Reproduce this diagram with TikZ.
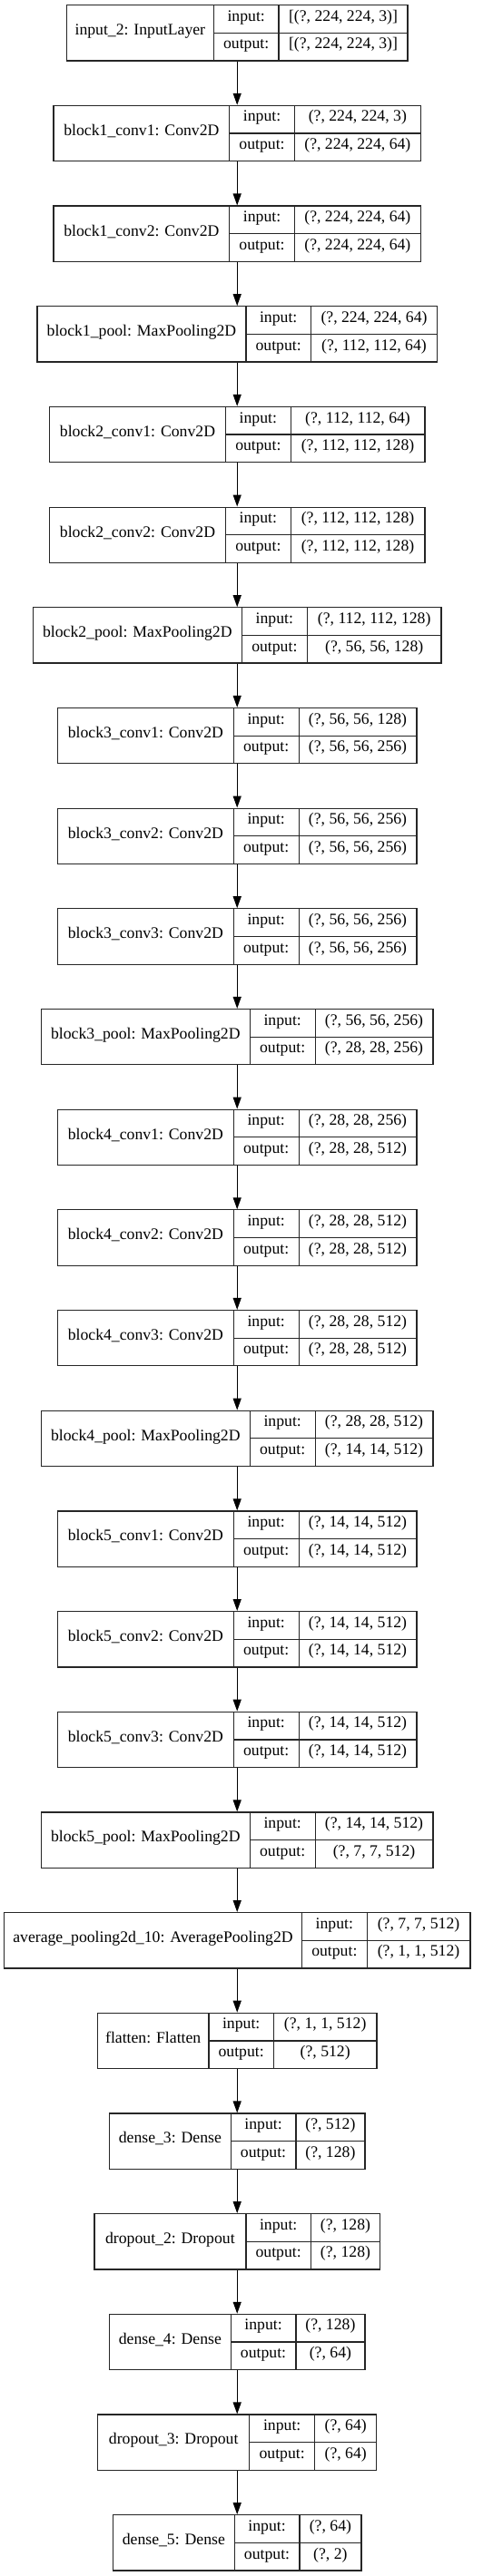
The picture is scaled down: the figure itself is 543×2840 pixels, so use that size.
\documentclass[tikz,border=0pt]{standalone}
\usepackage{fontspec}
\setmainfont{Liberation Serif}
\usetikzlibrary{arrows.meta}
\tikzset{
  layerbox/.style={draw=black!85, line width=1.2pt, rectangle, inner sep=0pt, fill=white},
  cellline/.style={draw=black!85, line width=1.2pt},
  celltext/.style={anchor=mid, inner sep=0pt, font=\fontsize{17.7}{20}\selectfont},
  flow/.style={draw=black, line width=1.2pt, -{Triangle[length=13pt,width=9pt]}}
}
\newcommand{\klayer}[8]{%
  \pgfmathsetmacro{\kW}{#3+#4+#5}%
  \pgfmathsetmacro{\kL}{261.2-\kW/2}%
  \pgfmathsetmacro{\kT}{5.7+#2*110.68}%
  \pgfmathsetmacro{\kA}{\kL+#3}%
  \pgfmathsetmacro{\kB}{\kA+#4}%
  \pgfmathsetmacro{\kR}{\kL+\kW}%
  \pgfmathsetmacro{\kBt}{\kT+61.3}%
  \pgfmathsetmacro{\kM}{\kT+30.65}%
  \pgfmathsetmacro{\kUp}{\kT+15.3}%
  \pgfmathsetmacro{\kDn}{\kT+46.0}%
  \node[layerbox, minimum width=\kW pt, minimum height=61.3pt] (#1) at (261.2,\kM) {};
  \draw[cellline] (\kA,\kT) -- (\kA,\kBt);
  \draw[cellline] (\kB,\kT) -- (\kB,\kBt);
  \draw[cellline] (\kA,\kM) -- (\kR,\kM);
  \node[celltext] (#1-name) at ({(\kL+\kA)/2},\kM) {#6};
  \node[celltext] (#1-inl) at ({(\kA+\kB)/2},\kUp) {input:};
  \node[celltext] (#1-outl) at ({(\kA+\kB)/2},\kDn) {output:};
  \node[celltext] (#1-inv) at ({(\kB+\kR)/2},\kUp) {#7};
  \node[celltext] (#1-outv) at ({(\kB+\kR)/2},\kDn) {#8};
}
\begin{document}
\begin{tikzpicture}[x=1pt,y=-1pt]
\useasboundingbox[fill=white] (0,0) rectangle (543,2840);
\klayer{inp}{0}{162}{71.7}{142}{input\_2: InputLayer}{[(?, 224, 224, 3)]}{[(?, 224, 224, 3)]}
\klayer{bAa}{1}{193.7}{71.6}{139}{block1\_conv1: Conv2D}{(?, 224, 224, 3)}{(?, 224, 224, 64)}
\klayer{bAb}{2}{193.7}{71.6}{139}{block1\_conv2: Conv2D}{(?, 224, 224, 64)}{(?, 224, 224, 64)}
\klayer{bAp}{3}{230}{71.6}{139}{block1\_pool: MaxPooling2D}{(?, 224, 224, 64)}{(?, 112, 112, 64)}
\klayer{bBa}{4}{194}{71.7}{147.7}{block2\_conv1: Conv2D}{(?, 112, 112, 64)}{(?, 112, 112, 128)}
\klayer{bBb}{5}{194}{71.7}{147.7}{block2\_conv2: Conv2D}{(?, 112, 112, 128)}{(?, 112, 112, 128)}
\klayer{bBp}{6}{230}{72}{147.7}{block2\_pool: MaxPooling2D}{(?, 112, 112, 128)}{(?, 56, 56, 128)}
\klayer{bCa}{7}{193.7}{72}{129.7}{block3\_conv1: Conv2D}{(?, 56, 56, 128)}{(?, 56, 56, 256)}
\klayer{bCb}{8}{193.7}{72}{129.7}{block3\_conv2: Conv2D}{(?, 56, 56, 256)}{(?, 56, 56, 256)}
\klayer{bCc}{9}{193.7}{72}{129.7}{block3\_conv3: Conv2D}{(?, 56, 56, 256)}{(?, 56, 56, 256)}
\klayer{bCp}{10}{229.7}{72}{129.7}{block3\_pool: MaxPooling2D}{(?, 56, 56, 256)}{(?, 28, 28, 256)}
\klayer{bDa}{11}{193.7}{72}{129.7}{block4\_conv1: Conv2D}{(?, 28, 28, 256)}{(?, 28, 28, 512)}
\klayer{bDb}{12}{193.7}{72}{129.7}{block4\_conv2: Conv2D}{(?, 28, 28, 512)}{(?, 28, 28, 512)}
\klayer{bDc}{13}{193.7}{72}{129.7}{block4\_conv3: Conv2D}{(?, 28, 28, 512)}{(?, 28, 28, 512)}
\klayer{bDp}{14}{229.7}{72}{129.7}{block4\_pool: MaxPooling2D}{(?, 28, 28, 512)}{(?, 14, 14, 512)}
\klayer{bEa}{15}{193.7}{72}{129.7}{block5\_conv1: Conv2D}{(?, 14, 14, 512)}{(?, 14, 14, 512)}
\klayer{bEb}{16}{193.7}{72}{129.7}{block5\_conv2: Conv2D}{(?, 14, 14, 512)}{(?, 14, 14, 512)}
\klayer{bEc}{17}{193.7}{72}{129.7}{block5\_conv3: Conv2D}{(?, 14, 14, 512)}{(?, 14, 14, 512)}
\klayer{bEp}{18}{229.7}{72}{129.7}{block5\_pool: MaxPooling2D}{(?, 14, 14, 512)}{(?, 7, 7, 512)}
\klayer{avg}{19}{328}{71.7}{113.7}{average\_pooling2d\_10: AveragePooling2D}{(?, 7, 7, 512)}{(?, 1, 1, 512)}
\klayer{flt}{20}{122.4}{71.6}{113.4}{flatten: Flatten}{(?, 1, 1, 512)}{(?, 512)}
\klayer{dnA}{21}{133.7}{71.7}{76}{dense\_3: Dense}{(?, 512)}{(?, 128)}
\klayer{drA}{22}{167}{71.6}{76}{dropout\_2: Dropout}{(?, 128)}{(?, 128)}
\klayer{dnB}{23}{133.7}{71.7}{76}{dense\_4: Dense}{(?, 128)}{(?, 64)}
\klayer{drB}{24}{167}{72}{68}{dropout\_3: Dropout}{(?, 64)}{(?, 64)}
\klayer{dnC}{25}{133.7}{71.7}{68}{dense\_5: Dense}{(?, 64)}{(?, 2)}
\foreach \a/\b in {inp/bAa,bAa/bAb,bAb/bAp,bAp/bBa,bBa/bBb,bBb/bBp,bBp/bCa,bCa/bCb,bCb/bCc,bCc/bCp,bCp/bDa,bDa/bDb,bDb/bDc,bDc/bDp,bDp/bEa,bEa/bEb,bEb/bEc,bEc/bEp,bEp/avg,avg/flt,flt/dnA,dnA/drA,drA/dnB,dnB/drB,drB/dnC}
  \draw[flow] (\a.south) -- (\b.north);
\end{tikzpicture}
\end{document}
